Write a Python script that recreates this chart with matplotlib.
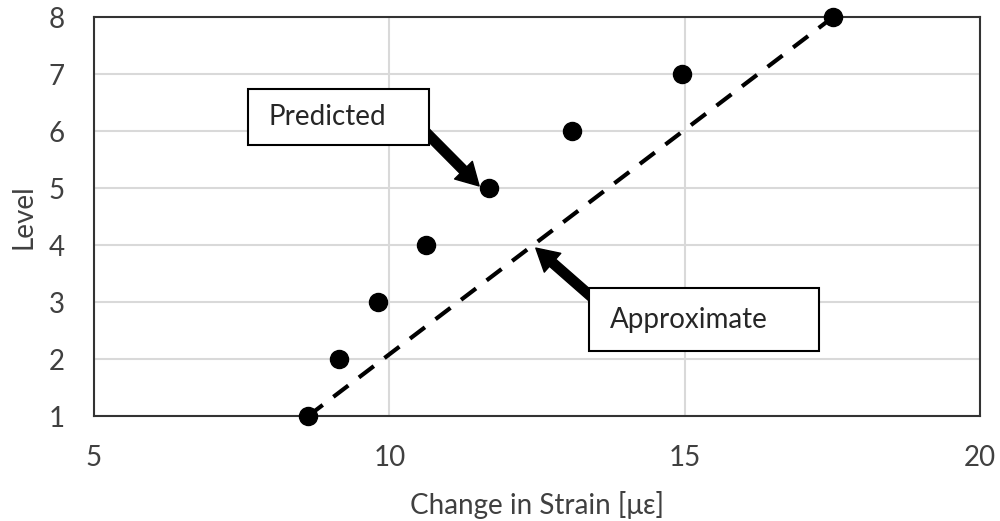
import matplotlib.pyplot as plt
from matplotlib.patches import Rectangle

plt.rcParams['font.family'] = ['Lato', 'DejaVu Sans']

# measured change in strain per level
strain = [8.62, 9.15, 9.81, 10.62, 11.69, 13.09, 14.95, 17.51]
level = [1, 2, 3, 4, 5, 6, 7, 8]

# approximate linear trend between first and last level
approx_strain = [8.62, 17.51]
approx_level = [1, 8]

fig = plt.figure(figsize=(10, 5.21), dpi=100)
ax = fig.add_axes([0.094, 0.201, 0.886, 0.766])

ax.plot(approx_strain, approx_level, color='black', lw=3, ls=(0, (4.5, 3.2)),
        clip_on=False, zorder=3)
ax.plot(strain, level, 'o', color='black', markersize=13, clip_on=False, zorder=4)

ax.set_xlim(5, 20)
ax.set_ylim(1, 8)
ax.set_xticks([5, 10, 15, 20])
ax.set_yticks(range(1, 9))
ax.grid(True, color='#d9d9d9', lw=1.5)
ax.set_axisbelow(True)
ax.tick_params(length=0, labelsize=20, colors='#404040', pad=21)
for s in ax.spines.values():
    s.set_color('#333333')
    s.set_linewidth(1.5)

ax.set_xlabel('Change in Strain [\u03bc\u03b5]', fontsize=20, color='#404040', labelpad=14)
ax.set_ylabel('Level', fontsize=20, color='#404040', labelpad=9)

arrow = dict(arrowstyle='simple,head_width=0.9,head_length=0.8,tail_width=0.34',
             fc='black', ec='black', mutation_scale=20, shrinkA=0, shrinkB=0)

# callout: predicted point
ax.annotate('', xy=(11.52, 5.04), xytext=(10.62, 5.98), arrowprops=arrow, zorder=5)
ax.add_patch(Rectangle((7.61, 5.75), 3.06, 0.99, fc='white', ec='black', lw=1.5, zorder=6))
ax.text(7.95, 6.25, 'Predicted', fontsize=20, color='#262626', va='center', zorder=7)

# callout: approximate trend line
ax.annotate('', xy=(12.48, 3.95), xytext=(13.45, 3.07), arrowprops=arrow, zorder=5)
ax.add_patch(Rectangle((13.38, 2.14), 3.89, 1.11, fc='white', ec='black', lw=1.5, zorder=6))
ax.text(13.74, 2.68, 'Approximate', fontsize=20, color='#262626', va='center', zorder=7)

fig.savefig('out.png', dpi=100)
